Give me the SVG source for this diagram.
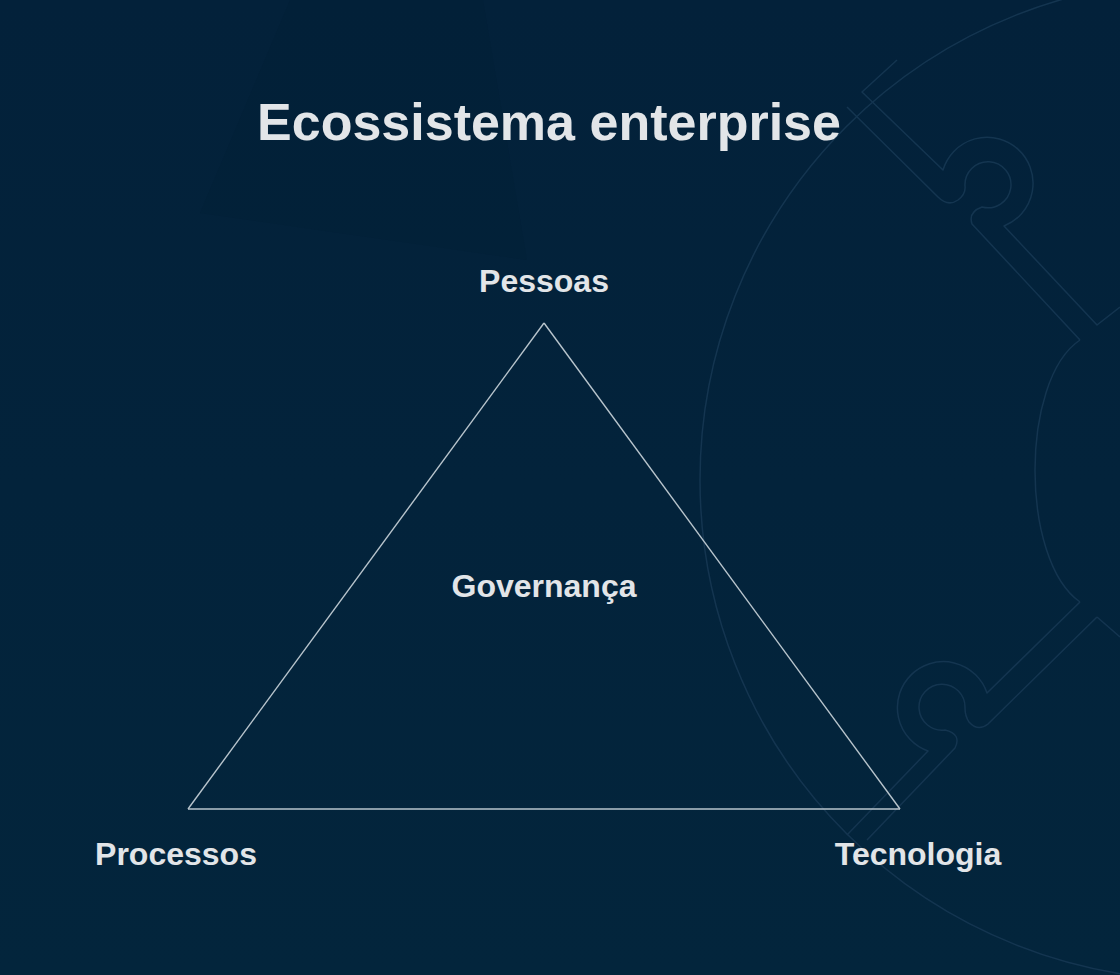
<svg xmlns="http://www.w3.org/2000/svg" width="1120" height="975" viewBox="0 0 1120 975">
  <defs>
    <linearGradient id="bg" x1="0" y1="0" x2="0" y2="1">
      <stop offset="0" stop-color="#03213a"/>
      <stop offset="1" stop-color="#03253c"/>
    </linearGradient>
    <style>
      .label { font-family: "Liberation Sans", Arial, sans-serif; font-weight: bold; fill: #e2e5e8; text-anchor: middle; }
      .title { font-size: 52px; }
      .node { font-size: 32px; }
      .edge { fill: none; stroke: #b9c5cd; stroke-width: 1.4; }
      .deco { fill: none; stroke: #143550; stroke-width: 1.5; stroke-linejoin: round; }
    </style>
  </defs>

  <!-- backdrop -->
  <rect width="1120" height="975" fill="url(#bg)"/>
  <polygon points="200,213 290,0 483,0 527,260" fill="#021c30" opacity="0.2"/>

  <!-- decorative puzzle ring on the right -->
  <g id="decor">
    <circle cx="1200" cy="480" r="500" class="deco"/>
    <!-- upper seam -->
    <path class="deco" d="M897,60 L862,92 L943,170 A46,46 0 1 1 1004,226 L1097,325 L1120,307"/>
    <path class="deco" d="M847,107 L938,197 Q948,207 958,200 Q966,194 965,186 A23,23 0 1 1 982,207 Q968,212 972,224 L1080,340"/>
    <!-- concave edge -->
    <path class="deco" d="M1080,340 C1020,380 1020,560 1080,602"/>
    <!-- lower seam -->
    <path class="deco" d="M1080,602 L987,693 A46,46 0 1 0 928,751 L847,835"/>
    <path class="deco" d="M1097,617 L988,724 Q978,732 969,722 Q965,716 965,708 A23,23 0 1 0 945,730 Q962,734 955,748 L867,840"/>
    <path class="deco" d="M1097,617 L1120,637"/>
  </g>

  <!-- title -->
  <text id="title" class="label title" x="549" y="140">Ecossistema enterprise</text>

  <!-- connectors: triangle edges -->
  <g id="connectors">
    <path class="edge" d="M544,323 L188,809"/>
    <path class="edge" d="M544,323 L900,809"/>
    <path class="edge" d="M188,809 L900,809"/>
  </g>

  <g id="pessoas"><text class="label node" x="544" y="292">Pessoas</text></g>
  <g id="governanca"><text class="label node" x="544" y="597">Governança</text></g>
  <g id="processos"><text class="label node" x="176" y="865">Processos</text></g>
  <g id="tecnologia"><text class="label node" x="918" y="865">Tecnologia</text></g>
</svg>
